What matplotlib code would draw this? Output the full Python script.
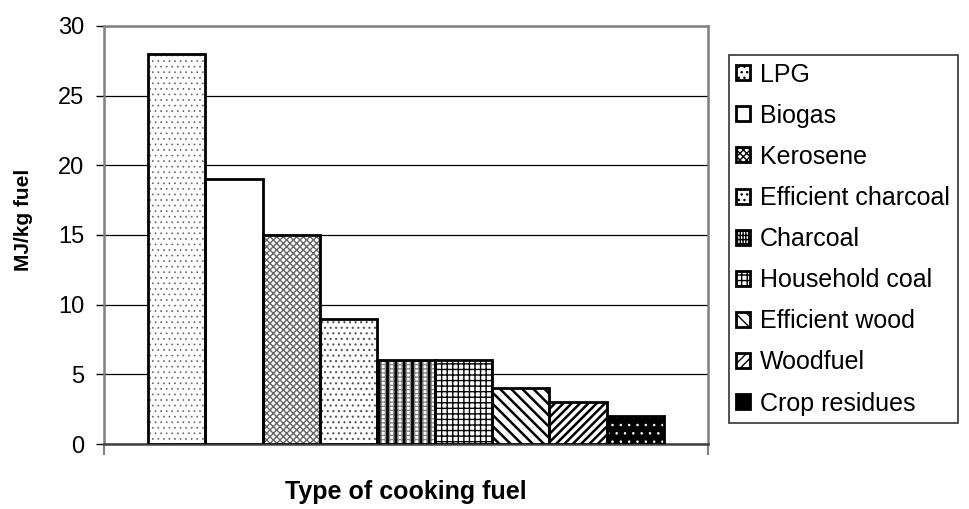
import matplotlib
matplotlib.use("Agg")
import matplotlib.pyplot as plt

plt.rcParams["font.family"] = ["Liberation Sans", "DejaVu Sans"]
plt.rcParams["hatch.linewidth"] = 1.0

fuels = [
    "LPG",
    "Biogas",
    "Kerosene",
    "Efficient charcoal",
    "Charcoal",
    "Household coal",
    "Efficient wood",
    "Woodfuel",
    "Crop residues",
]
energy_mj_kg = [28, 19, 15, 9, 6, 6, 4, 3, 2]

# fill per fuel: face colour and a list of (hatch, hatch colour, hatch width) layers
styles = [
    ("white", [("...", "#666666", 0.5)]),
    ("white", []),
    ("white", [("xxxxx", "#666666", 1.0)]),
    ("white", [("...", "#555555", 0.8)]),
    ("white", [("++++", "#888888", 1.0), ("||", "black", 2.0)]),
    ("white", [("+++", "black", 1.0)]),
    ("white", [("\\\\\\", "black", 1.8)]),
    ("white", [("////", "black", 1.8)]),
    ("black", [("..", "white", 0.6)]),
]


def set_hatch_width(patches, width):
    for p in patches:
        if hasattr(p, "set_hatch_linewidth"):
            p.set_hatch_linewidth(width)


fig = plt.figure(figsize=(9.7, 5.09), dpi=100)
ax = fig.add_axes([0.1072, 0.1277, 0.6227, 0.8213])

handles = []
for i, (name, value, (face, layers)) in enumerate(zip(fuels, energy_mj_kg, styles)):
    ax.bar(i, value, width=1.0, color=face, linewidth=0, zorder=3)
    for hatch, hcol, hlw in layers:
        b = ax.bar(i, value, width=1.0, fill=False, edgecolor=hcol,
                   hatch=hatch, linewidth=0, zorder=4)
        set_hatch_width(b.patches, hlw)
    ax.bar(i, value, width=1.0, fill=False, edgecolor="black",
           linewidth=2.0, zorder=5)
    # legend swatch
    hatch = "".join(h for h, _, _ in layers) if face == "white" else None
    handles.append(plt.Rectangle((0, 0), 1, 1, facecolor=face, edgecolor="black",
                                 hatch=hatch, linewidth=2.0, label=name))

gap = 0.765
x_lo, x_hi = -0.5 - gap, len(fuels) - 0.5 + gap
ax.set_xlim(x_lo, x_hi)
ax.set_ylim(0, 30)
ax.set_yticks(range(0, 31, 5))
ax.set_xticks([x_lo, x_hi])
ax.set_xticklabels(["", ""])
ax.tick_params(axis="y", direction="out", length=6, width=1.0,
               labelsize=17, pad=8, color="black")
ax.tick_params(axis="x", direction="out", length=8, width=1.5, color="#808080")

ax.yaxis.grid(True, color="black", linewidth=0.9, zorder=0)
ax.set_axisbelow(True)

for side in ["top", "right", "left"]:
    ax.spines[side].set_color("#808080")
    ax.spines[side].set_linewidth(1.8)
ax.spines["bottom"].set_color("#404040")
ax.spines["bottom"].set_linewidth(1.8)

ax.set_xlabel("Type of cooking fuel", fontsize=18, fontweight="bold")
ax.xaxis.set_label_coords(0.5, -0.085)
ax.xaxis.label.set_verticalalignment("top")
ax.set_ylabel("MJ/kg fuel", fontsize=15, fontweight="bold")
ax.yaxis.set_label_coords(-0.118, 0.536)

leg = fig.legend(
    handles=handles,
    loc="upper left",
    bbox_to_anchor=(729 / 970, 1 - 55 / 509),
    fontsize=18,
    frameon=True,
    fancybox=False,
    edgecolor="black",
    handlelength=0.55,
    handleheight=0.55,
    handletextpad=0.4,
    labelspacing=0.685,
    borderpad=0.3,
    borderaxespad=0,
)
leg.get_frame().set_linewidth(1.2)

fig.savefig("out.png", dpi=100)
